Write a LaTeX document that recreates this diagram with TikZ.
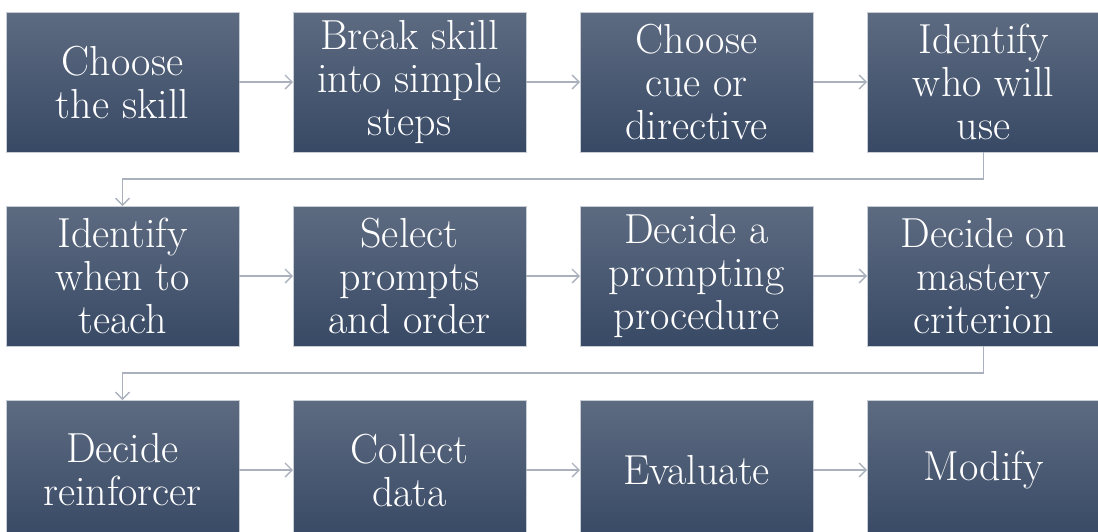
\documentclass[tikz,border=0pt]{standalone}
\usepackage{tikz}
\usetikzlibrary{arrows.meta, positioning}

\definecolor{slatetop}{RGB}{93,107,129}
\definecolor{slatebot}{RGB}{56,73,101}
\definecolor{slateedge}{RGB}{200,205,213}
\definecolor{flowgray}{RGB}{170,177,189}

\tikzset{
    stepbox/.style={rectangle, draw=slateedge, line width=0.8pt,
        top color=slatetop, bottom color=slatebot,
        minimum width=233pt, minimum height=140pt, inner sep=0pt, outer sep=0pt,
        align=center, text=white, font=\fontsize{42}{43}\selectfont},
    flow/.style={draw=flowgray, line width=1.3pt,
        -{Straight Barb[length=7pt, width=14pt, line width=1.3pt]}}
}

\begin{document}
\begin{tikzpicture}[x=1pt, y=1pt, node distance=54pt]
    \useasboundingbox (0,0) rectangle (1098,-531);
    % first row
    \node[stepbox] (s1) at (122.5,-82) {Choose\\the skill};
    \node[stepbox, right=of s1] (s2) {Break skill\\into simple\\steps};
    \node[stepbox, right=of s2] (s3) {Choose\\cue or\\directive};
    \node[stepbox, right=of s3] (s4) {Identify\\who will\\use};
    % second row
    \node[stepbox, below=of s1] (s5) {Identify\\when to\\teach};
    \node[stepbox, right=of s5] (s6) {Select\\prompts\\and order};
    \node[stepbox, right=of s6] (s7) {Decide a\\prompting\\procedure};
    \node[stepbox, right=of s7] (s8) {Decide on\\mastery\\criterion};
    % third row
    \node[stepbox, below=of s5] (s9) {Decide\\reinforcer};
    \node[stepbox, right=of s9] (s10) {Collect\\data};
    \node[stepbox, right=of s10] (s11) {Evaluate};
    \node[stepbox, right=of s11] (s12) {Modify};
    % arrows along each row
    \foreach \a/\b in {s1/s2, s2/s3, s3/s4, s5/s6, s6/s7, s7/s8, s9/s10, s10/s11, s11/s12}
        \draw[flow] (\a) -- (\b);
    % wrap to the next row
    \draw[flow] (s4.south) -- ++(0,-27) -| (s5.north);
    \draw[flow] (s8.south) -- ++(0,-27) -| (s9.north);
\end{tikzpicture}
\end{document}
